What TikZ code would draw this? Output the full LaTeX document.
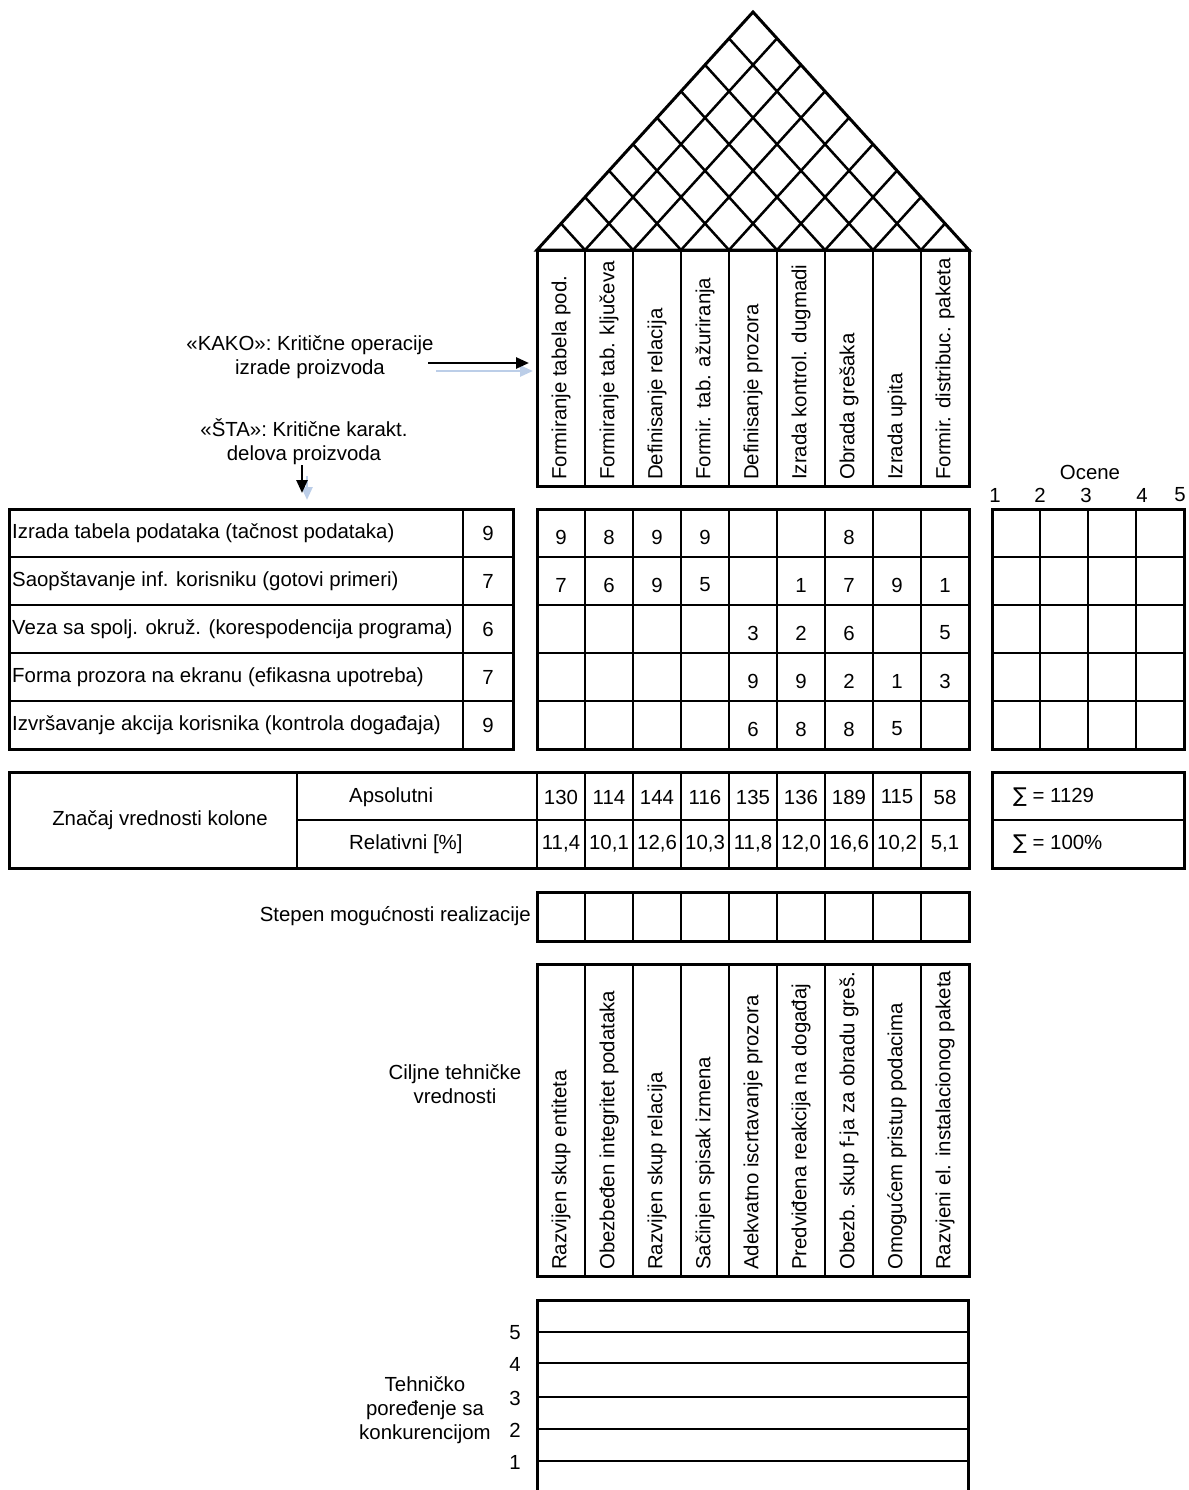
\documentclass[tikz,border=0pt]{standalone}
\usepackage{fontspec}
\setmainfont{Liberation Sans}
\newfontfamily\symfont{DejaVu Sans}
\usetikzlibrary{arrows.meta}
\definecolor{shadowblue}{RGB}{188,206,232}
\tikzset{
  frame/.style={line width=3pt},
  inner line/.style={line width=2.5pt},
  lbl/.style={font=\fontsize{20.4}{24}\selectfont, inner sep=1pt},
  vlbl/.style={lbl, rotate=90, anchor=west},
  pointer/.style={line width=2.6pt, -{Triangle[length=13pt,width=11pt]}},
  pointer shadow/.style={line width=2.6pt, draw=shadowblue, -{Triangle[length=13pt,width=11pt,fill=shadowblue]}},
}
\begin{document}
\begin{tikzpicture}[x=1pt,y=-1pt]
\useasboundingbox (0,0) rectangle (1188,1490);
% roof
\draw[frame, line join=miter] (537,250) -- (753,12) -- (969,250) -- cycle;
\foreach \i in {1,...,8} {
  \draw[inner line] (537+48*\i,250) -- (753+24*\i,{12+238*\i/9});
  \draw[inner line] (537+48*\i,250) -- (537+24*\i,{12+238*(9-\i)/9});
}
% header with the operations
\draw[frame] (537,250) rectangle (969,486);
\foreach \i in {1,...,8} \draw[inner line] (537+48*\i,250) -- (537+48*\i,486);
\foreach \c/\t in {1/Formiranje tabela pod., 2/Formiranje tab. ključeva, 3/Definisanje relacija,
  4/Formir. tab. ažuriranja, 5/Definisanje prozora, 6/Izrada kontrol. dugmadi,
  7/Obrada grešaka, 8/Izrada upita, 9/Formir. distribuc. paketa}
  \node[vlbl] (op\c) at (513+48*\c,481) {\t};
% labels and pointers
\node[lbl, align=center] (kako) at (310,357) {«KAKO»: Kritične operacije\\izrade proizvoda};
\coordinate (kakoA) at (428,363);
\coordinate (kakoB) at (529,363);
\coordinate (kakoC) at (436,371);
\coordinate (kakoD) at (533,371);
\draw[pointer shadow] (kakoC) -- (kakoD);
\draw[pointer] (kakoA) -- (kakoB);
\node[lbl, align=center] (sta) at (304,442) {«ŠTA»: Kritične karakt.\\delova proizvoda};
\coordinate (staA) at (302,465);
\coordinate (staB) at (302,493);
\coordinate (staC) at (307,476);
\coordinate (staD) at (307,500);
\draw[pointer shadow] (staC) -- (staD);
\draw[pointer] (staA) -- (staB);
% requirements table
\draw[frame] (9,509) rectangle (513,749);
\draw[inner line] (463,509) -- (463,749);
\foreach \r in {1,...,4} \draw[inner line] (9,509+48*\r) -- (513,509+48*\r);
\foreach \r/\t/\w in {1/Izrada tabela podataka (tačnost podataka)/9,
  2/Saopštavanje inf. korisniku (gotovi primeri)/7,
  3/Veza sa spolj. okruž. (korespodencija programa)/6,
  4/Forma prozora na ekranu (efikasna upotreba)/7,
  5/Izvršavanje akcija korisnika (kontrola događaja)/9} {
  \node[lbl, anchor=west] (req\r) at (11,485+48*\r) {\t};
  \node[lbl] (w\r) at (488,485+48*\r) {\w};
}
% relationship matrix
\draw[frame] (537,509) rectangle (969,749);
\foreach \i in {1,...,8} \draw[inner line] (537+48*\i,509) -- (537+48*\i,749);
\foreach \r in {1,...,4} \draw[inner line] (537,509+48*\r) -- (969,509+48*\r);
\foreach \c/\r/\v in {1/1/9, 2/1/8, 3/1/9, 4/1/9, 7/1/8,
  1/2/7, 2/2/6, 3/2/9, 4/2/5, 6/2/1, 7/2/7, 8/2/9, 9/2/1,
  5/3/3, 6/3/2, 7/3/6, 9/3/5,
  5/4/9, 6/4/9, 7/4/2, 8/4/1, 9/4/3,
  5/5/6, 6/5/8, 7/5/8, 8/5/5}
  \node[lbl] (m\c\r) at (513+48*\c,489+48*\r) {\v};
% ratings
\node[lbl] (ocene) at (1090,472) {Ocene};
\foreach \k/\x in {1/995, 2/1040, 3/1086, 4/1142, 5/1180}
  \node[lbl] (oc\k) at (\x,495) {\k};
\draw[frame] (992,509) rectangle (1184,749);
\foreach \i in {1,2,3} \draw[inner line] (992+48*\i,509) -- (992+48*\i,749);
\foreach \r in {1,...,4} \draw[inner line] (992,509+48*\r) -- (1184,509+48*\r);
% column weights
\draw[frame] (9,772) rectangle (969,868);
\draw[inner line] (297,772) -- (297,868);
\draw[inner line] (297,820) -- (969,820);
\foreach \i in {0,...,8} \draw[inner line] (537+48*\i,772) -- (537+48*\i,868);
\node[lbl] (znacaj) at (160,820) {Značaj vrednosti kolone};
\node[lbl, anchor=west] (aps) at (348,797) {Apsolutni};
\node[lbl, anchor=west] (rel) at (348,844) {Relativni [\%]};
\foreach \c/\a/\p in {1/130/{11,4}, 2/114/{10,1}, 3/144/{12,6}, 4/116/{10,3}, 5/135/{11,8},
  6/136/{12,0}, 7/189/{16,6}, 8/115/{10,2}, 9/58/{5,1}} {
  \node[lbl] (abs\c) at (513+48*\c,797) {\a};
  \node[lbl] (pct\c) at (513+48*\c,844) {\p};
}
\draw[frame] (992,772) rectangle (1184,868);
\draw[inner line] (992,820) -- (1184,820);
\node[lbl, anchor=west] (sumA) at (1012,797) {{\symfont ∑} = 1129};
\node[lbl, anchor=west] (sumR) at (1012,844) {{\symfont ∑} = 100\%};
% feasibility
\node[lbl, anchor=east] (stepen) at (532,916) {Stepen mogućnosti realizacije};
\draw[frame] (537,892) rectangle (969,941);
\foreach \i in {1,...,8} \draw[inner line] (537+48*\i,892) -- (537+48*\i,941);
% target values
\node[lbl, align=center] (ciljne) at (455,1084) {Ciljne tehničke\\vrednosti};
\draw[frame] (537,964) rectangle (969,1276);
\foreach \i in {1,...,8} \draw[inner line] (537+48*\i,964) -- (537+48*\i,1276);
\foreach \c/\t in {1/Razvijen skup entiteta, 2/Obezbeđen integritet podataka, 3/Razvijen skup relacija,
  4/Sačinjen spisak izmena, 5/Adekvatno iscrtavanje prozora, 6/Predviđena reakcija na događaj,
  7/Obezb. skup f-ja za obradu greš., 8/Omogućem pristup podacima, 9/Razvjeni el. instalacionog paketa}
  \node[vlbl] (tv\c) at (513+48*\c,1271) {\t};
% comparison with competitors
\node[lbl, align=center] (tehn) at (425,1410) {Tehničko\\poređenje sa\\konkurencijom};
\draw[frame] (537,1490) -- (537,1300) -- (968,1300) -- (968,1490);
\foreach \k/\y in {5/1332, 4/1363, 3/1397, 2/1429, 1/1461} {
  \draw[inner line] (537,\y) -- (968,\y);
  \node[lbl] (cmp\k) at (515,\y+1) {\k};
}
\end{tikzpicture}
\end{document}
